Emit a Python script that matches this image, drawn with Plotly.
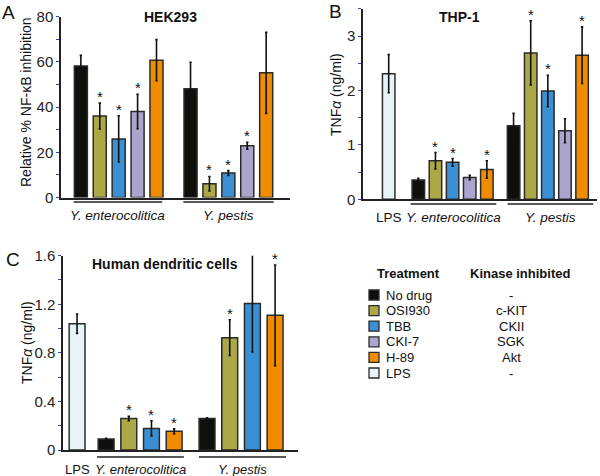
import plotly.graph_objects as go

# treatments / legend
treatments = ['No drug', 'OSI930', 'TBB', 'CKI-7', 'H-89', 'LPS']
kinases = ['-', 'c-KIT', 'CKII', 'SGK', 'Akt', '-']
colors = ['#0f0f0c', '#aba845', '#3b8fd3', '#aba4cd', '#f18b00', '#e7f3f7']

# panel A: HEK293, relative % NF-kB inhibition
hek_ent = [58.1, 36.0, 25.9, 38.0, 60.7]
hek_ent_err = [4.7, 5.7, 10.2, 7.6, 9.1]
hek_ent_sig = [0, 1, 1, 1, 0]
hek_pes = [48.1, 6.1, 10.8, 22.9, 55.1]
hek_pes_err = [11.7, 3.2, 1.1, 1.5, 17.9]
hek_pes_sig = [0, 1, 1, 1, 0]

# panel B: THP-1, TNFa (ng/ml)
thp_lps = [2.31]
thp_lps_err = [0.35]
thp_ent = [0.355, 0.71, 0.68, 0.40, 0.55]
thp_ent_err = [0.03, 0.15, 0.07, 0.04, 0.16]
thp_ent_sig = [0, 1, 1, 0, 1]
thp_pes = [1.35, 2.69, 1.99, 1.26, 2.65]
thp_pes_err = [0.23, 0.59, 0.29, 0.22, 0.52]
thp_pes_sig = [0, 1, 1, 0, 1]

# panel C: human dendritic cells (no CKI-7)
dc_idx = [0, 1, 2, 4]
dc_lps = [1.04]
dc_lps_err = [0.08]
dc_ent = [0.09, 0.26, 0.178, 0.154]
dc_ent_err = [0.006, 0.018, 0.062, 0.02]
dc_ent_sig = [0, 1, 1, 1]
dc_pes = [0.26, 0.925, 1.207, 1.109]
dc_pes_err = [0.006, 0.147, 0.40, 0.415]
dc_pes_sig = [0, 1, 1, 1]

FONT = 'Liberation Sans, Arial, sans-serif'
W, H = 600, 476
OUTLINE = '#2b2b2b'


def px(x):
    return x / W


def py(y):
    return 1 - y / H


def positions(start, n):
    return [start + i for i in range(n)]


fig = go.Figure()
annotations = []
shapes = []


def note(x, y, text, xref='paper', yref='paper', size=14, xanchor='center', yanchor='middle', **kw):
    annotations.append(dict(x=x, y=y, xref=xref, yref=yref, text=text, showarrow=False,
                            xanchor=xanchor, yanchor=yanchor,
                            font=dict(family=FONT, size=size, color='#111'), **kw))


def add_group(xa, ya, xs, vals, errs, cols, width, sig=None):
    fig.add_trace(go.Bar(
        x=xs, y=vals, width=width, xaxis=xa, yaxis=ya,
        marker=dict(color=cols, line=dict(color=OUTLINE, width=1.5)),
        error_y=dict(type='data', array=errs, color='#111', thickness=1.6, width=1.2),
        showlegend=False, hoverinfo='skip'))
    if sig:
        for x, v, e, s in zip(xs, vals, errs, sig):
            if s:
                note(x, v + e, '*', xref=xa, yref=ya, size=15, yanchor='bottom', yshift=-4)


def group_label(xa, x0, x1, line_y, label_y, text, italic=True, size=13.5):
    if x1 is not None:
        shapes.append(dict(type='line', xref=xa, yref='paper', x0=x0, x1=x1,
                           y0=py(line_y), y1=py(line_y), line=dict(color='#222', width=1.5)))
        xm = (x0 + x1) / 2
    else:
        xm = x0
    note(xm, py(label_y), f'<i>{text}</i>' if italic else text, xref=xa, size=size)


# ---- panel A
a_ent = positions(0, 5)
a_pes = positions(5.8, 5)
add_group('x', 'y', a_ent, hek_ent, hek_ent_err, colors[:5], 0.69, hek_ent_sig)
add_group('x', 'y', a_pes, hek_pes, hek_pes_err, colors[:5], 0.69, hek_pes_sig)
group_label('x', a_ent[0] - 0.38, a_ent[-1] + 0.3, 202, 216, 'Y. enterocolitica')
group_label('x', a_pes[0] - 0.38, a_pes[-1] + 0.4, 202, 216, 'Y. pestis')

# ---- panel B
b_lps = positions(0, 1)
b_ent = positions(1.73, 5)
b_pes = positions(7.29, 5)
add_group('x2', 'y2', b_lps, thp_lps, thp_lps_err, [colors[5]], 0.73)
add_group('x2', 'y2', b_ent, thp_ent, thp_ent_err, colors[:5], 0.73, thp_ent_sig)
add_group('x2', 'y2', b_pes, thp_pes, thp_pes_err, colors[:5], 0.73, thp_pes_sig)
group_label('x2', b_lps[0], None, 0, 218, 'LPS', italic=False)
group_label('x2', b_ent[0] - 0.45, b_ent[-1] + 0.55, 204, 218, 'Y. enterocolitica')
group_label('x2', b_pes[0] - 0.35, b_pes[-1] + 0.65, 204, 218, 'Y. pestis')

# ---- panel C
dc_cols = [colors[i] for i in dc_idx]
c_lps = positions(0, 1)
c_ent = positions(1.28, 4)
c_pes = positions(5.73, 4)
add_group('x3', 'y3', c_lps, dc_lps, dc_lps_err, [colors[5]], 0.7)
add_group('x3', 'y3', c_ent, dc_ent, dc_ent_err, dc_cols, 0.7, dc_ent_sig)
add_group('x3', 'y3', c_pes, dc_pes, dc_pes_err, dc_cols, 0.7, dc_pes_sig)
group_label('x3', c_lps[0], None, 0, 469, 'LPS', italic=False, size=13)
group_label('x3', c_ent[0] - 0.4, c_ent[-1] + 0.43, 457, 469, 'Y. enterocolitica', size=13)
group_label('x3', c_pes[0] - 0.36, c_pes[-1] + 0.48, 457, 469, 'Y. pestis', size=13)

# titles, panel letters, y titles
for text, x, y in [('HEK293', 171, 17), ('THP-1', 459, 17), ('Human dendritic cells', 165, 264)]:
    note(px(x), py(y), f'<b>{text}</b>')
for text, x, y in [('A', 8, 12), ('B', 335, 11), ('C', 13, 259)]:
    note(px(x), py(y), text, size=19)
for text, x, y in [('Relative % NF-\u03baB inhibition', 26, 102),
                   ('TNF<i>\u03b1</i> (ng/ml)', 336, 95),
                   ('TNF<i>\u03b1</i> (ng/ml)', 27, 343)]:
    note(px(x), py(y), text, textangle=-90)

# legend
note(px(408), py(273), '<b>Treatment</b>', size=13)
note(px(520), py(273), '<b>Kinase inhibited</b>', size=13)
for i, (t, k, c) in enumerate(zip(treatments, kinases, colors)):
    yc = 295 + i * 15.6
    shapes.append(dict(type='rect', xref='paper', yref='paper', x0=px(369), x1=px(379),
                       y0=py(yc + 5), y1=py(yc - 5), fillcolor=c, line=dict(color=OUTLINE, width=1.3)))
    note(px(384), py(yc), t, size=13, xanchor='left')
    note(px(511), py(yc), k, size=13)

tick_blue = '#3d45b0'


def yax(domain, rng, major, minor, anchor, fmt=None):
    d = dict(domain=domain, range=rng, anchor=anchor, automargin=False,
             showline=True, linecolor='#222', linewidth=1.5,
             ticks='outside', ticklen=3, tickwidth=1.2, tickcolor=tick_blue, tickvals=major,
             showgrid=False, zeroline=False, fixedrange=True,
             tickfont=dict(family=FONT, size=15, color='#222'),
             minor=dict(ticks='outside', ticklen=3, tickwidth=1.2, tickcolor=tick_blue, dtick=minor, showgrid=False))
    if fmt:
        d['ticktext'] = fmt
    return d


def xax(domain, rng, anchor):
    return dict(domain=domain, range=rng, anchor=anchor, automargin=False,
                showline=True, linecolor='#222', linewidth=1.5,
                showticklabels=False, ticks='', showgrid=False, zeroline=False, fixedrange=True)


fig.update_layout(
    width=W, height=H, margin=dict(l=0, r=0, t=0, b=0, autoexpand=False),
    paper_bgcolor='white', plot_bgcolor='white', barmode='overlay',
    font=dict(family=FONT, color='#111'),
    xaxis=xax([px(61), px(290)], [-1.05, 11.06], 'y'),
    yaxis=yax([py(197.5), py(16.5)], [0, 80], [0, 20, 40, 60, 80], 10, 'x'),
    xaxis2=xax([px(363), px(597)], [-1.5, 12.16], 'y2'),
    yaxis2=yax([py(199.3), py(8.9)], [0, 3.5], [0, 1, 2, 3], 0.5, 'x2'),
    xaxis3=xax([px(63), px(298)], [-0.62, 9.74], 'y3'),
    yaxis3=yax([py(450), py(255.7)], [0, 1.6], [0, 0.4, 0.8, 1.2, 1.6], 0.2, 'x3',
               ['0', '0.4', '0.8', '1.2', '1.6']),
    annotations=annotations, shapes=shapes,
)

# page body has an 8px default margin; drop it so the figure sits at the top-left
fig.write_html("out.html", config={'displayModeBar': False},
               post_script="document.body.style.margin='0';")
